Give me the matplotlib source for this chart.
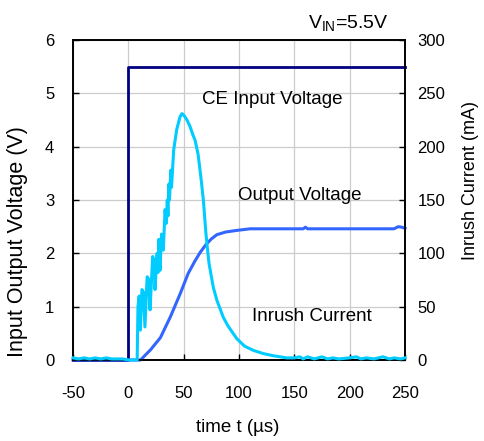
import matplotlib
matplotlib.use("Agg")
import matplotlib.pyplot as plt

plt.rcParams["font.family"] = ["Liberation Sans", "DejaVu Sans"]
plt.rcParams["axes.unicode_minus"] = False
plt.rcParams["mathtext.fontset"] = "custom"
plt.rcParams["mathtext.rm"] = "Liberation Sans"
plt.rcParams["mathtext.it"] = "Liberation Sans:italic"

# CE input voltage step (V)
ce_t = [-50, 0, 0, 250]
ce_v = [0, 0, 5.5, 5.5]

# output voltage soft-start ramp (V)
out_t = [-50, 11, 20, 29, 38, 47, 54, 60, 65, 70, 75, 80, 88, 98, 110,
         150, 158, 160, 162, 200, 240, 244, 247, 250]
out_v = [0, 0, 0.19, 0.42, 0.81, 1.25, 1.62, 1.85, 2.02, 2.16, 2.27, 2.35,
         2.40, 2.43, 2.46, 2.46, 2.46, 2.49, 2.46, 2.46, 2.46, 2.50, 2.49, 2.47]

# inrush current (mA)
inr_t = [-50, -45, -40, -35, -30, -25, -20, -15, -10, -5, 0, 8,
         8.7, 9.8, 10.8, 12.3, 13.6, 15.0, 17.0, 18.3, 19.6, 22.0, 23.2, 24.1,
         26.0, 26.8, 27.5, 28.6, 30.0, 30.6, 31.6, 33.2, 34.2, 35.2, 35.8,
         36.6, 37.2, 38.4, 39.0, 39.6, 41.0,
         43.7, 46.7, 48.5, 50.5, 53.0, 55.7, 58.0, 60.3, 63.0, 65.5, 67.8,
         70.0, 71.5, 73.0, 76.8, 80.0, 85.8, 90.0, 98.0, 105, 113, 122, 131,
         143, 150, 155, 158, 162, 168, 175, 180, 185, 190, 200, 206, 210, 215,
         222, 230, 236, 240, 246, 250]
inr_i = [2, 1, 2, 1, 2, 1, 2, 1, 1, 1, 0, 0,
         50, 60, 28, 66, 64, 31, 78, 76, 47, 97, 93, 66,
         100, 82, 113, 84, 118, 108, 103, 141, 128, 150, 135,
         165, 150, 178, 162, 172, 197,
         216, 228, 231, 229, 225, 219, 212, 206, 193, 172, 150,
         120, 104, 90, 68, 56, 40, 32, 20, 13, 9, 6, 4,
         2, 2, 3, 1, 3, 1, 3, 1, 2, 1, 2, 3, 1, 2,
         1, 3, 1, 2, 1, 2]

x_ticks = [-50, 0, 50, 100, 150, 200, 250]
v_ticks = [0, 1, 2, 3, 4, 5, 6]
i_ticks = [0, 50, 100, 150, 200, 250, 300]

fig = plt.figure(figsize=(4.84, 4.41), dpi=100)
ax = fig.add_axes([73 / 484, 81 / 441, 332 / 484, 320 / 441])
ax2 = ax.twinx()

ax.plot(ce_t, ce_v, color="#000080", lw=2.0, clip_on=False, zorder=3)
ax.plot(out_t, out_v, color="#3366FF", lw=2.2, clip_on=False, zorder=3)
ax2.plot(inr_t, inr_i, color="#00CCFF", lw=2.2, clip_on=False, zorder=3)

ax.set_xlim(-50, 250)
ax.set_ylim(0, 6)
ax2.set_ylim(0, 300)
ax.set_xticks(x_ticks)
ax.set_yticks(v_ticks)
ax2.set_yticks(i_ticks)

ax.grid(True, color="#cccccc", lw=0.9)
ax.set_axisbelow(True)

for a in (ax, ax2):
    for s in a.spines.values():
        s.set_linewidth(1.2)
        s.set_color("black")

ax.tick_params(axis="x", direction="in", length=4, width=1, pad=18.5,
               labelsize=12, top=False)
ax.tick_params(axis="y", direction="in", length=4, width=1, pad=13.5,
               labelsize=12, right=False)
ax2.tick_params(axis="y", direction="in", length=4, width=1, pad=9,
                labelsize=12)

ax.set_xlabel("time t (µs)", fontsize=13.5)
ax.xaxis.label.set_verticalalignment("center")
ax.xaxis.set_label_coords(0.497, -0.2125)

# axis titles centred on explicit points
ax.set_ylabel("Input Output Voltage (V)", fontsize=15.5)
ax.yaxis.label.set_rotation_mode("default")
ax.yaxis.label.set_verticalalignment("center")
ax.yaxis.label.set_horizontalalignment("center")
ax.yaxis.set_label_coords(-0.166, 0.369)

ax2.set_ylabel("Inrush Current (mA)", fontsize=13)
ax2.yaxis.label.set_rotation_mode("default")
ax2.yaxis.label.set_verticalalignment("center")
ax2.yaxis.label.set_horizontalalignment("center")
ax2.yaxis.set_label_coords(1.196, 0.5625)

ax.text(130, 4.8, "CE Input Voltage", fontsize=13.5, ha="center", va="baseline")
ax.text(155, 3.0, "Output Voltage", fontsize=13.5, ha="center", va="baseline")
ax.text(166, 0.73, "Inrush Current", fontsize=13.5, ha="center", va="baseline")
ax.text(162, 6.225, r"V$_{\mathrm{IN}}$=5.5V", fontsize=14, ha="left",
        va="baseline", clip_on=False)

fig.savefig("out.png", dpi=100)
